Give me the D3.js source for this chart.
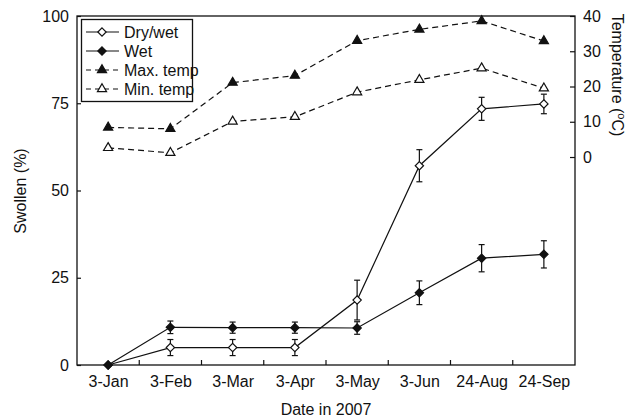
<!DOCTYPE html>
<html>
<head>
<meta charset="utf-8">
<script src="https://cdn.jsdelivr.net/npm/d3@7"></script>
<style>
body { margin: 0; background: #fff; }
text { font-family: "Liberation Sans", Arial, sans-serif; fill: #111; }
</style>
</head>
<body>
<div id="chart"></div>
<script>
var width = 627;
var height = 418;

var dates = ["3-Jan", "3-Feb", "3-Mar", "3-Apr", "3-May", "3-Jun", "24-Aug", "24-Sep"];
var dryWet = [0, 5, 5, 5, 18.6, 57.1, 73.4, 74.8];
var dryWetErr = [0, 2.3, 2.3, 2.3, 5.7, 4.6, 3.3, 2.8];
var wet = [0, 10.8, 10.7, 10.7, 10.6, 20.7, 30.6, 31.7];
var wetErr = [0, 1.8, 1.6, 1.6, 1.8, 3.4, 3.9, 3.9];
var maxTemp = [8.4, 8.0, 21.1, 23.1, 33.0, 36.2, 38.6, 32.9];
var minTemp = [2.6, 1.2, 10.1, 11.4, 18.4, 21.9, 25.2, 19.5];
var swollenTicks = [0, 25, 50, 75, 100];
var tempTicks = [0, 10, 20, 30, 40];

var plotLeft = 77, plotRight = 575, plotTop = 16, plotBottom = 365;

var svg = d3.select("#chart")
    .append("svg")
    .attr("width", width)
    .attr("height", height);

var x = d3.scalePoint()
    .domain(dates)
    .range([plotLeft, plotRight])
    .padding(0.5);

var y = d3.scaleLinear()
    .domain([0, 100])
    .range([plotBottom, plotTop]);

var y2 = d3.scaleLinear()
    .domain([-59, 40])
    .range([plotBottom, plotTop]);

function series(vals, errs) {
    return dates.map(function(d, i) {
        return {x: d, v: vals[i], e: errs ? errs[i] : 0};
    });
}

// frame
svg.append("rect")
    .attr("x", plotLeft).attr("y", plotTop)
    .attr("width", plotRight - plotLeft).attr("height", plotBottom - plotTop)
    .attr("fill", "none")
    .attr("stroke", "#111")
    .attr("stroke-width", 1.3);

// x axis labels
var xAxis = svg.append("g")
    .attr("transform", "translate(0," + plotBottom + ")")
    .call(d3.axisBottom(x).tickSize(0).tickPadding(11));
xAxis.select(".domain").remove();
xAxis.selectAll("text").style("font-size", "16px").attr("fill", "#111");

// x ticks between categories
svg.append("g")
    .selectAll("line")
    .data(dates.slice(0, dates.length - 1))
    .enter()
    .append("line")
    .attr("x1", function(d) { return x(d) + x.step() / 2; })
    .attr("x2", function(d) { return x(d) + x.step() / 2; })
    .attr("y1", plotBottom)
    .attr("y2", plotBottom - 5)
    .attr("stroke", "#111")
    .attr("stroke-width", 1.2);

var yAxis = svg.append("g")
    .attr("transform", "translate(" + plotLeft + ",0)")
    .call(d3.axisLeft(y).tickValues(swollenTicks).tickSizeInner(-4).tickSizeOuter(0).tickPadding(8));
yAxis.select(".domain").remove();
yAxis.selectAll("line").attr("stroke", "#111").attr("stroke-width", 1.2);
yAxis.selectAll("text").style("font-size", "16px").attr("fill", "#111");

var y2Axis = svg.append("g")
    .attr("transform", "translate(" + plotRight + ",0)")
    .call(d3.axisRight(y2).tickValues(tempTicks).tickSizeInner(-5).tickSizeOuter(0).tickPadding(8));
y2Axis.select(".domain").remove();
y2Axis.selectAll("line").attr("stroke", "#111").attr("stroke-width", 1.2);
y2Axis.selectAll("text").style("font-size", "16px").attr("fill", "#111");

// axis titles
svg.append("text")
    .attr("x", 326).attr("y", 415)
    .attr("text-anchor", "middle")
    .style("font-size", "16px")
    .text("Date in 2007");

svg.append("text")
    .attr("transform", "translate(26,191) rotate(-90)")
    .attr("text-anchor", "middle")
    .style("font-size", "16px")
    .text("Swollen (%)");

var tLabel = svg.append("text")
    .attr("transform", "translate(612,75) rotate(90)")
    .attr("text-anchor", "middle")
    .style("font-size", "16px");
tLabel.append("tspan").text("Temperature (");
tLabel.append("tspan").attr("dy", -6).style("font-size", "11px").text("o");
tLabel.append("tspan").attr("dy", 6).text("C)");

var diamond = d3.symbol().type(d3.symbolDiamond2 || d3.symbolDiamond).size(44);
var triangle = d3.symbol().type(d3.symbolTriangle).size(36);

function drawSeries(data, scale, opts) {
    var g = svg.append("g");
    var line = d3.line()
        .x(function(d) { return x(d.x); })
        .y(function(d) { return scale(d.v); });

    if (opts.errors) {
        var eb = g.selectAll(".err")
            .data(data.filter(function(d) { return d.e > 0; }))
            .enter()
            .append("g")
            .attr("stroke", "#111")
            .attr("stroke-width", 1.2);
        eb.append("line")
            .attr("x1", function(d) { return x(d.x); })
            .attr("x2", function(d) { return x(d.x); })
            .attr("y1", function(d) { return scale(d.v - d.e); })
            .attr("y2", function(d) { return scale(d.v + d.e); });
        [-1, 1].forEach(function(s) {
            eb.append("line")
                .attr("x1", function(d) { return x(d.x) - 3; })
                .attr("x2", function(d) { return x(d.x) + 3; })
                .attr("y1", function(d) { return scale(d.v + s * d.e); })
                .attr("y2", function(d) { return scale(d.v + s * d.e); });
        });
    }

    g.append("path")
        .datum(data)
        .attr("fill", "none")
        .attr("stroke", "#111")
        .attr("stroke-width", 1.2)
        .attr("stroke-dasharray", opts.dash || null)
        .attr("d", line);

    g.selectAll(".pt")
        .data(data)
        .enter()
        .append("path")
        .attr("transform", function(d) { return "translate(" + x(d.x) + "," + scale(d.v) + ")"; })
        .attr("d", opts.symbol)
        .attr("fill", opts.fill)
        .attr("stroke", "#111")
        .attr("stroke-width", 1.2);
}

drawSeries(series(maxTemp), y2, {symbol: triangle, fill: "#111", dash: "6,4"});
drawSeries(series(minTemp), y2, {symbol: triangle, fill: "#fff", dash: "6,4"});
drawSeries(series(dryWet, dryWetErr), y, {symbol: diamond, fill: "#fff", errors: true});
drawSeries(series(wet, wetErr), y, {symbol: diamond, fill: "#111", errors: true});

// legend
var legendItems = [
    {name: "Dry/wet", symbol: diamond, fill: "#fff", dash: null},
    {name: "Wet", symbol: diamond, fill: "#111", dash: null},
    {name: "Max. temp", symbol: triangle, fill: "#111", dash: "5,4"},
    {name: "Min. temp", symbol: triangle, fill: "#fff", dash: "5,4"}
];

var legend = svg.append("g");
legend.append("rect")
    .attr("x", 81.5).attr("y", 19.5)
    .attr("width", 111).attr("height", 82)
    .attr("fill", "#fff")
    .attr("stroke", "#111")
    .attr("stroke-width", 1.3);

var rows = legend.selectAll(".item")
    .data(legendItems)
    .enter()
    .append("g")
    .attr("transform", function(d, i) { return "translate(0," + (32 + i * 19) + ")"; });

rows.append("line")
    .attr("x1", 86).attr("x2", 119)
    .attr("stroke", "#111")
    .attr("stroke-width", 1.2)
    .attr("stroke-dasharray", function(d) { return d.dash; });

rows.append("path")
    .attr("transform", "translate(102,0)")
    .attr("d", function(d) { return d.symbol(); })
    .attr("fill", function(d) { return d.fill; })
    .attr("stroke", "#111")
    .attr("stroke-width", 1.2);

rows.append("text")
    .attr("x", 124)
    .attr("dy", "0.35em")
    .style("font-size", "16px")
    .text(function(d) { return d.name; });
</script>
</body>
</html>
